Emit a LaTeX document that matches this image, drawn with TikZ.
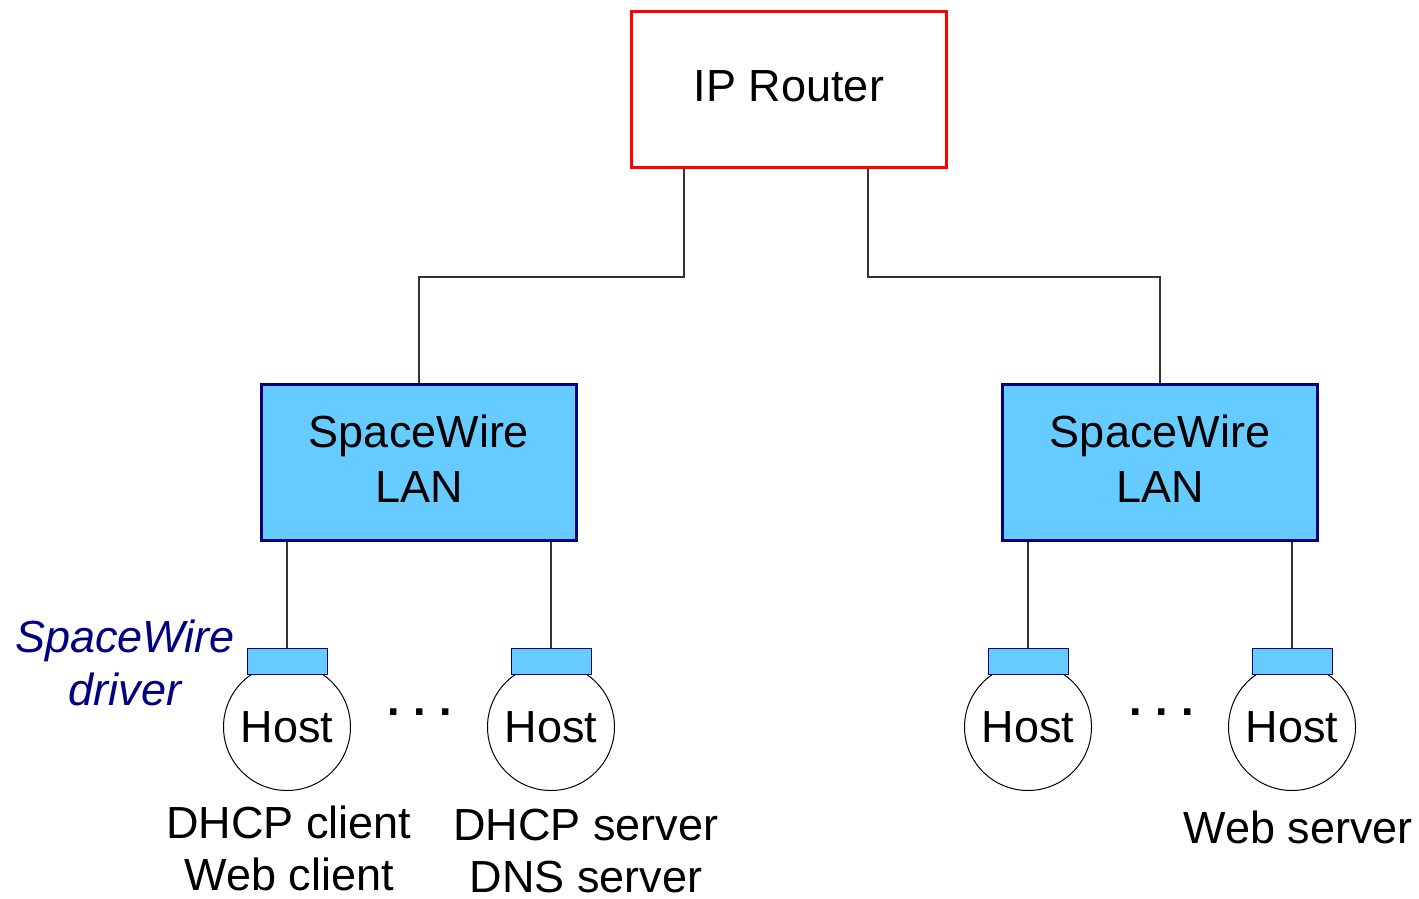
\documentclass[tikz,border=0pt]{standalone}
\usepackage{fontspec}
\setmainfont{Liberation Sans}
\definecolor{lanblue}{HTML}{66CCFF}
\definecolor{lannavy}{HTML}{000080}
\definecolor{routerred}{HTML}{FF0000}
\begin{document}
\begin{tikzpicture}[x=0.5pt,y=-0.5pt,
  bigtext/.style={font=\fontsize{22.5}{27.5}\selectfont},
  labeltext/.style={font=\fontsize{22.5}{26}\selectfont, align=center, inner sep=0pt},
  routerbox/.style={draw=routerred, line width=1.5pt, fill=white, minimum width=157.5pt, minimum height=78pt, inner sep=0pt, text depth=3pt, bigtext},
  lanbox/.style={draw=lannavy, line width=1.5pt, fill=lanblue, minimum width=157.5pt, minimum height=78pt, inner sep=0pt, align=center, text depth=4pt, bigtext},
  hostnode/.style={circle, draw=black, line width=0.5pt, fill=white, minimum size=63.5pt, inner sep=0pt, bigtext},
  drvbox/.style={draw=lannavy, line width=0.5pt, fill=lanblue, minimum width=40pt, minimum height=13pt, inner sep=0pt},
  wire/.style={draw=black!80, line width=0.6pt},
  dots/.style={anchor=base, inner sep=0pt, font=\fontsize{22.5}{27.5}\selectfont\bfseries}
]
\useasboundingbox (0,0) rectangle (1419,899);

% router and the two SpaceWire LANs
\node[routerbox] (router) at (789,89.5) {IP Router};
\node[lanbox] (lanL) at (419,462.5) {SpaceWire\\LAN};
\node[lanbox] (lanR) at (1160,462.5) {SpaceWire\\LAN};

% hosts, each with its SpaceWire driver on top
\node[hostnode] (hostA) at (287,727) {Host};
\node[hostnode] (hostB) at (551,727) {Host};
\node[hostnode] (hostC) at (1028,727) {Host};
\node[hostnode] (hostD) at (1292,727) {Host};
\node[drvbox] (drvA) at (287,661) {};
\node[drvbox] (drvB) at (551,661) {};
\node[drvbox] (drvC) at (1028,661) {};
\node[drvbox] (drvD) at (1292,661) {};

% links
\draw[wire] ([xshift=-52.5pt]router.south) -- ++(0,108) -| (lanL.north);
\draw[wire] ([xshift=39.5pt]router.south) -- ++(0,108) -| (lanR.north);
\draw[wire] (lanL.south -| drvA.north) -- (drvA.north);
\draw[wire] (lanL.south -| drvB.north) -- (drvB.north);
\draw[wire] (lanR.south -| drvC.north) -- (drvC.north);
\draw[wire] (lanR.south -| drvD.north) -- (drvD.north);

% ellipses between hosts
\node[dots] (dotsL) at (420,715) {.\hspace{0.3em}.\hspace{0.3em}.};
\node[dots] (dotsR) at (1162,715) {.\hspace{0.3em}.\hspace{0.3em}.};

% roles
\node[labeltext] (roleA) at (289,848.5) {DHCP client\\Web client};
\node[labeltext] (roleB) at (586,851) {DHCP server\\DNS server};
\node[labeltext] (roleD) at (1298,827) {Web server};
\node[labeltext, text=lannavy, font=\fontsize{22.5}{26.5}\selectfont\itshape] (drvlabel) at (125,662.5) {SpaceWire\\driver};
\end{tikzpicture}
\end{document}
